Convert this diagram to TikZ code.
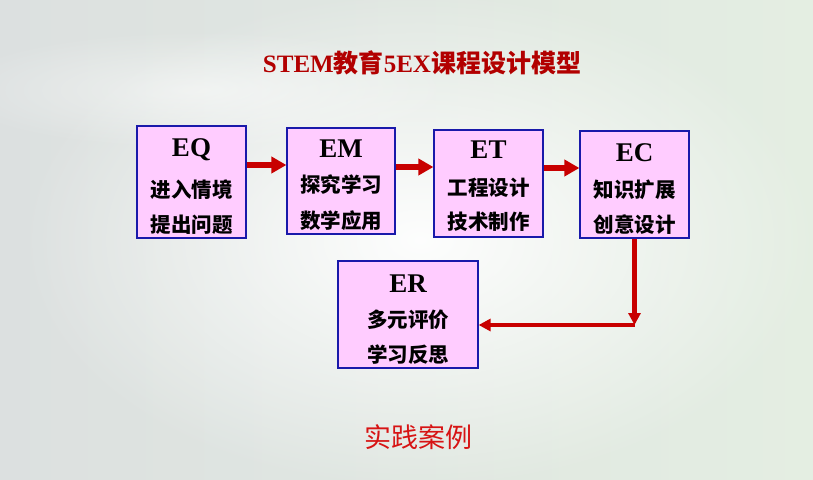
\documentclass[tikz,border=0pt]{standalone}
\usepackage{fontspec}
\setmainfont{Liberation Serif}
\newfontfamily\cjk{Noto Sans CJK SC}
\usetikzlibrary{arrows.meta,calc,fadings}
\definecolor{boxfill}{RGB}{255,204,255}
\definecolor{boxline}{RGB}{25,25,170}
\definecolor{arrred}{RGB}{200,0,0}
\definecolor{titlered}{RGB}{178,0,0}
\definecolor{casered}{RGB}{215,20,20}
\definecolor{bgleft}{RGB}{220,224,224}
\definecolor{bgright}{RGB}{228,238,226}
\tikzfading[name=softglow, inner color=transparent!0, outer color=transparent!100]
\begin{document}
\begin{tikzpicture}[x=1pt,y=-1pt,
  stagebox/.style={draw=boxline, fill=boxfill, line width=1.2pt, inner sep=0pt},
  headtext/.style={font=\fontsize{27}{30}\selectfont\bfseries},
  linetext/.style={font=\cjk\bfseries\fontsize{20.5}{23}\selectfont},
  bigarrow/.style={draw=arrred, line width=6pt, -{Triangle[length=15pt,width=16pt]}},
  smallarrow/.style={draw=arrred, line width=4.5pt, -{Triangle[length=12pt,width=12pt]}},
  titlefont/.style={font=\fontsize{25}{28}\selectfont\bfseries}
]
\useasboundingbox (0,0) rectangle (813,479);
% background
\shade[left color=bgleft, right color=bgright] (0,0) rectangle (813,479);
\fill[white, path fading=softglow, opacity=0.95] (420,240) ellipse (400 and 250);
\fill[white, path fading=softglow, opacity=0.5] (200,90) ellipse (260 and 60);

% title
\node[titlefont, text=titlered] (title) at (422,63) {STEM{\cjk 教育}5EX{\cjk 课程设计模型}};

% boxes
\node[stagebox, minimum width=109pt, minimum height=112pt] (eq) at (191.5,182) {};
\node[stagebox, minimum width=108pt, minimum height=106pt] (em) at (341,181) {};
\node[stagebox, minimum width=109pt, minimum height=107pt] (et) at (488.5,183.5) {};
\node[stagebox, minimum width=109pt, minimum height=107pt] (ec) at (634.5,184.5) {};
\node[stagebox, minimum width=140pt, minimum height=107pt] (er) at (408,314.5) {};

% box texts
\node[headtext] (eqh) at (191.5,150) {EQ};
\node[linetext] (eq1) at (191.5,190) {进入情境};
\node[linetext] (eq2) at (191.5,225) {提出问题};

\node[headtext] (emh) at (341,149) {EM};
\node[linetext] (em1) at (341,185) {探究学习};
\node[linetext] (em2) at (341,221) {数学应用};

\node[headtext] (eth) at (488.5,150) {ET};
\node[linetext] (et1) at (488.5,188) {工程设计};
\node[linetext] (et2) at (488.5,222) {技术制作};

\node[headtext] (ech) at (634.5,153) {EC};
\node[linetext] (ec1) at (634.5,190) {知识扩展};
\node[linetext] (ec2) at (634.5,225) {创意设计};

\node[headtext] (erh) at (408,284) {ER};
\node[linetext] (er1) at (408,320) {多元评价};
\node[linetext] (er2) at (408,355) {学习反思};

% arrows
\draw[bigarrow] (eq.east |- 0,165) -- (em.west |- 0,165);
\draw[bigarrow] (em.east |- 0,167) -- (et.west |- 0,167);
\draw[bigarrow] (et.east |- 0,168) -- (ec.west |- 0,168);
\coordinate (corner) at (634.5,325);
\draw[smallarrow] (ec.south) -- (corner);
\draw[smallarrow] (corner) -- (er.east |- corner);

% bottom text
\node[text=casered, font=\cjk\fontsize{27}{30}\selectfont] (case) at (418,437) {实践案例};
\end{tikzpicture}
\end{document}
